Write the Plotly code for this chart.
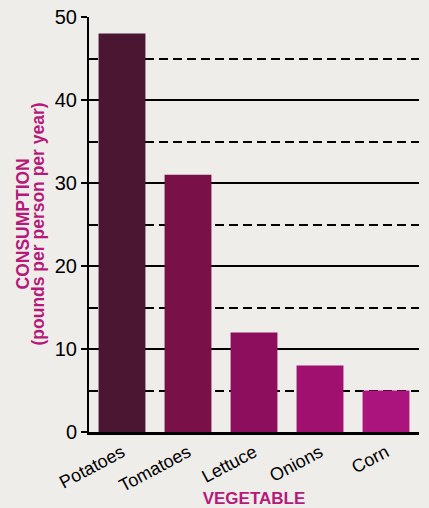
import plotly.graph_objects as go

vegetables = ["Potatoes", "Tomatoes", "Lettuce", "Onions", "Corn"]
consumption = [48, 31, 12, 8, 5]
bar_colors = ["#4a1632", "#7a1048", "#8e0e5e", "#a0106e", "#aa147c"]
y_ticks = [0, 10, 20, 30, 40, 50]
y_title_lines = ["CONSUMPTION", "(pounds per person per year)"]

title_color = "#b5197a"
font_family = "Liberation Sans, Arial, Helvetica, sans-serif"

fig = go.Figure(
    go.Bar(
        x=vegetables,
        y=consumption,
        marker=dict(color=bar_colors, line=dict(width=0)),
        width=0.71,
    )
)

fig.update_layout(
    width=429,
    height=508,
    margin=dict(l=89, r=10, t=17, b=76),
    paper_bgcolor="#efedea",
    plot_bgcolor="#efedea",
    font=dict(family=font_family, color="black", size=18),
    showlegend=False,
)

fig.update_xaxes(
    automargin=False,
    tickangle=-28,
    tickfont=dict(size=18),
    showline=True,
    linecolor="black",
    linewidth=3,
    ticks="",
    title=dict(text="<b>VEGETABLE</b>", font=dict(size=17, color=title_color), standoff=2),
)

fig.update_yaxes(
    automargin=False,
    range=[0, 50],
    tickvals=y_ticks,
    ticks="outside",
    ticklen=6,
    tickwidth=2,
    tickcolor="black",
    tickfont=dict(size=20),
    showline=True,
    linecolor="black",
    linewidth=2,
    showgrid=True,
    gridcolor="black",
    gridwidth=1.6,
    zeroline=False,
    minor=dict(dtick=5, showgrid=True, griddash="9px,5px", gridcolor="black", gridwidth=1.5, ticks=""),
)

for line_text, shift in zip(y_title_lines, [-67, -52]):
    fig.add_annotation(
        text=f"<b>{line_text}</b>",
        xref="paper", yref="paper",
        x=0, y=0.5,
        xanchor="center", yanchor="middle",
        xshift=shift,
        textangle=-90,
        showarrow=False,
        font=dict(size=17.5, color=title_color),
    )

fig.write_html("out.html")
